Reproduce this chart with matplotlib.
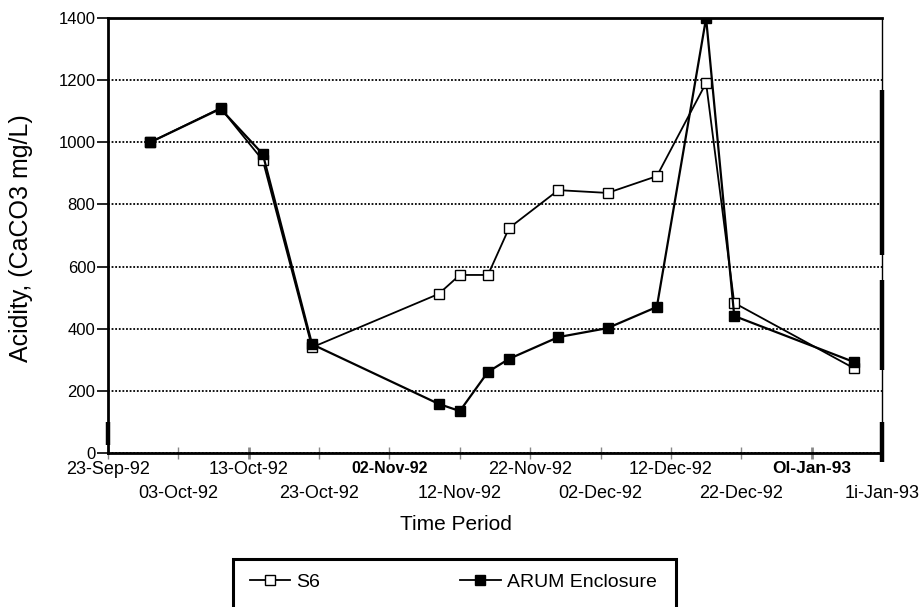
import matplotlib
matplotlib.use("Agg")
import matplotlib.pyplot as plt
import matplotlib.dates as mdates
from matplotlib.patches import Rectangle
from matplotlib.lines import Line2D

plt.rcParams['font.family'] = ['Liberation Sans', 'DejaVu Sans']

# Sampling dates and acidity readings (CaCO3 mg/L)
sample_dates = ["1992-09-29", "1992-10-09", "1992-10-15", "1992-10-22",
                "1992-11-09", "1992-11-12", "1992-11-16", "1992-11-19",
                "1992-11-26", "1992-12-03", "1992-12-10", "1992-12-17",
                "1992-12-21", "1993-01-07"]
s6 = [1000, 1110, 942, 340, 512, 573, 573, 724, 846, 837, 891, 1191, 483, 273]
arum = [1000, 1108, 962, 350, 158, 135, 261, 303, 373, 402, 470, 1400, 441, 293]

tick_dates = ["1992-09-23", "1992-10-03", "1992-10-13", "1992-10-23",
              "1992-11-02", "1992-11-12", "1992-11-22", "1992-12-02",
              "1992-12-12", "1992-12-22", "1993-01-01", "1993-01-11"]
tick_labels = ["23-Sep-92", "03-Oct-92", "13-Oct-92", "23-Oct-92",
               "02-Nov-92", "12-Nov-92", "22-Nov-92", "02-Dec-92",
               "12-Dec-92", "22-Dec-92", "Ol-Jan-93", "1i-Jan-93"]
y_ticks = [0, 200, 400, 600, 800, 1000, 1200, 1400]

W, H = 923, 607
fig = plt.figure(figsize=(W / 100, H / 100), dpi=100)
ax = fig.add_axes([108 / W, 1 - 453 / H, (882 - 108) / W, 435 / H])

x = mdates.datestr2num(sample_dates)
xt = mdates.datestr2num(tick_dates)

ax.plot(x, s6, color='black', lw=1.3, marker='s', ms=7, mfc='white',
        mec='black', mew=1.0, zorder=3)
ax.plot(x, arum, color='black', lw=1.6, marker='s', ms=7, mfc='black',
        mec='black', zorder=4)

ax.set_xlim(xt[0], xt[-1])
ax.set_ylim(0, 1400)

# horizontal gridlines
ax.set_yticks(y_ticks)
ax.yaxis.grid(True, color='black', lw=1.3, linestyle=(0, (1, 1)))
ax.set_axisbelow(True)

ax.set_xticks(xt)
ax.set_xticklabels(tick_labels, fontsize=13)
for i, t in enumerate(ax.get_xticklabels()):
    if tick_labels[i] in ("02-Nov-92", "Ol-Jan-93"):
        t.set_fontweight('bold')
        t.set_fontsize(11.5 if tick_labels[i] == "02-Nov-92" else 12.5)
ax.tick_params(axis='x', direction='inout', length=9, width=1, color='#888888', pad=1)
# alternate labels drop to a second row
for i, tk in enumerate(ax.xaxis.get_major_ticks()):
    if i % 2 == 1:
        tk.set_pad(18.5)
# heavier ticks at 13-Oct and 01-Jan
for i in (2, 10):
    tk = ax.xaxis.get_major_ticks()[i]
    tk.tick1line.set_color('black')
    tk.tick1line.set_markeredgewidth(2)
ax.tick_params(axis='y', direction='out', length=8, width=1.2, color='black',
               labelsize=12, pad=1)

ax.set_ylabel("Acidity, (CaCO3 mg/L)", fontsize=18)
ax.yaxis.set_label_coords(-0.097, 0.494)
fig.text(456 / W, 1 - 524 / H, "Time Period", fontsize=15, ha='center', va='center')

for side in ('left', 'bottom', 'top'):
    ax.spines[side].set_linewidth(2)
ax.spines['right'].set_linewidth(1)

# heavier stretches along the frame edges
for y0, y1 in [(0.834, 0.455), (0.398, 0.191), (0.071, -0.021)]:
    ax.add_line(Line2D([1, 1], [y0, y1], transform=ax.transAxes, lw=3.2,
                       color='black', clip_on=False, solid_capstyle='butt'))
ax.add_line(Line2D([0, 0], [0.071, 0.018], transform=ax.transAxes, lw=3.2,
                   color='black', clip_on=False, solid_capstyle='butt'))

# legend
handles = [Line2D([], [], color='black', lw=1.3, marker='s', ms=7, mfc='white', mec='black'),
           Line2D([], [], color='black', lw=1.3, marker='s', ms=7, mfc='black', mec='black')]
fig.legend(handles, ["S6", "ARUM Enclosure"], loc='center left',
           bbox_to_anchor=(240 / W, 1 - 582 / H), ncol=2, frameon=False,
           fontsize=14, borderpad=0, handlelength=2.06, handletextpad=0.35,
           columnspacing=7.2)
fig.patches.append(Rectangle((233 / W, -0.05), (676 - 233) / W, (607 - 559) / H + 0.05,
                             transform=fig.transFigure, fill=False, lw=2.2,
                             edgecolor='black', clip_on=False))

fig.savefig("out.png", dpi=100)
